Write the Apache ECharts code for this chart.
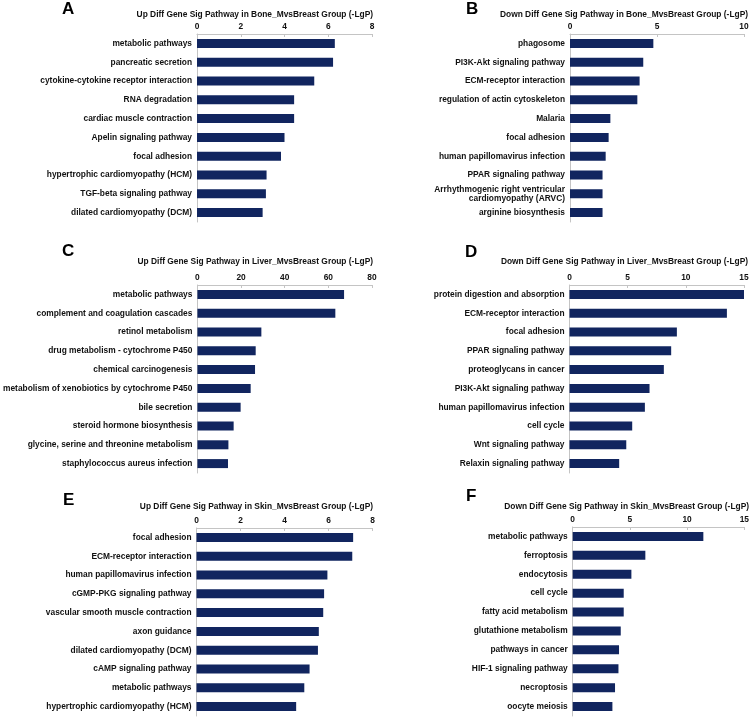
<!DOCTYPE html>
<html><head><meta charset="utf-8">
<script src="https://cdn.jsdelivr.net/npm/echarts@6/dist/echarts.min.js"></script>
<style>html,body{margin:0;padding:0;background:#fff}#c{width:752px;height:719px}</style>
</head><body><div id="c"></div>
<script>
// ---- data ----
const catsA = ["metabolic pathways","pancreatic secretion","cytokine-cytokine receptor interaction","RNA degradation","cardiac muscle contraction","Apelin signaling pathway","focal adhesion","hypertrophic cardiomyopathy (HCM)","TGF-beta signaling pathway","dilated cardiomyopathy (DCM)"];
const valsA = [6.3,6.22,5.36,4.44,4.44,4.0,3.84,3.18,3.15,3.0];
const catsB = ["phagosome","PI3K-Akt signaling pathway","ECM-receptor interaction","regulation of actin cytoskeleton","Malaria","focal adhesion","human papillomavirus infection","PPAR signaling pathway","Arrhythmogenic right ventricular\ncardiomyopathy (ARVC)","arginine biosynthesis"];
const valsB = [4.79,4.21,4.0,3.87,2.32,2.22,2.05,1.87,1.87,1.87];
const catsC = ["metabolic pathways","complement and coagulation cascades","retinol metabolism","drug metabolism - cytochrome P450","chemical carcinogenesis","metabolism of xenobiotics by cytochrome P450","bile secretion","steroid hormone biosynthesis","glycine, serine and threonine metabolism","staphylococcus aureus infection"];
const valsC = [67.2,63.2,29.3,26.7,26.4,24.4,19.8,16.6,14.2,14.0];
const catsD = ["protein digestion and absorption","ECM-receptor interaction","focal adhesion","PPAR signaling pathway","proteoglycans in cancer","PI3K-Akt signaling pathway","human papillomavirus infection","cell cycle","Wnt signaling pathway","Relaxin signaling pathway"];
const valsD = [15.0,13.53,9.23,8.74,8.11,6.88,6.48,5.39,4.88,4.27];
const catsE = ["focal adhesion","ECM-receptor interaction","human papillomavirus infection","cGMP-PKG signaling pathway","vascular smooth muscle contraction","axon guidance","dilated cardiomyopathy (DCM)","cAMP signaling pathway","metabolic pathways","hypertrophic cardiomyopathy (HCM)"];
const valsE = [7.12,7.08,5.95,5.8,5.76,5.56,5.52,5.14,4.9,4.53];
const catsF = ["metabolic pathways","ferroptosis","endocytosis","cell cycle","fatty acid metabolism","glutathione metabolism","pathways in cancer","HIF-1 signaling pathway","necroptosis","oocyte meiosis"];
const valsF = [11.42,6.35,5.13,4.46,4.46,4.2,4.05,4.0,3.7,3.47];
const titles = [
 "Up Diff Gene Sig Pathway in Bone_MvsBreast Group (-LgP)",
 "Down Diff Gene Sig Pathway in Bone_MvsBreast Group (-LgP)",
 "Up Diff Gene Sig Pathway in Liver_MvsBreast Group (-LgP)",
 "Down Diff Gene Sig Pathway in Liver_MvsBreast Group (-LgP)",
 "Up Diff Gene Sig Pathway in Skin_MvsBreast Group (-LgP)",
 "Down Diff Gene Sig Pathway in Skin_MvsBreast Group (-LgP)"];
const letters = ["A","B","C","D","E","F"];
const axisMax = [8,10,80,15,8,15];
const axisInterval = [2,5,20,5,2,5];

// ---- layout ----
const panels = [
 {cats:catsA, vals:valsA, grid:{left:197,width:175,top:34,height:188}, title:[373,15], letter:[62,9.5]},
 {cats:catsB, vals:valsB, grid:{left:570,width:174,top:34,height:188}, title:[748,15], letter:[466,9.5]},
 {cats:catsC, vals:valsC, grid:{left:197,width:175,top:285,height:188}, title:[373,262], letter:[62,251.5]},
 {cats:catsD, vals:valsD, grid:{left:569.5,width:174.5,top:285,height:188}, title:[748,262], letter:[465,252]},
 {cats:catsE, vals:valsE, grid:{left:196.5,width:176,top:528,height:188}, title:[373,507], letter:[63,500.5]},
 {cats:catsF, vals:valsF, grid:{left:572.7,width:171.6,top:527,height:189}, title:[749,506.5], letter:[466,496]}
];
const FONT = "Liberation Sans, Arial, sans-serif";
const FS = 8.4;
const grid=[], xAxis=[], yAxis=[], series=[], graphic=[];
panels.forEach((p,i)=>{
  grid.push(Object.assign({containLabel:false}, p.grid));
  xAxis.push({type:'value', gridIndex:i, position:'top', min:0, max:axisMax[i], interval:axisInterval[i],
    splitLine:{show:false},
    axisLine:{show:true, lineStyle:{color:'#c4c4c4', width:1}},
    axisTick:{show:true, inside:true, length:3, lineStyle:{color:'#c4c4c4'}},
    axisLabel:{fontSize:FS, fontWeight:'bold', color:'#111', margin:3, fontFamily:FONT}});
  yAxis.push({type:'category', gridIndex:i, inverse:true, data:p.cats,
    axisLine:{show:true, lineStyle:{color:'#c4c4c4', width:1}},
    axisTick:{show:false},
    axisLabel:{fontSize:FS, fontWeight:'bold', color:'#111', margin:5, lineHeight:9, fontFamily:FONT}});
  series.push({type:'bar', xAxisIndex:i, yAxisIndex:i, data:p.vals, barWidth:9,
    itemStyle:{color:'#11255f'}, silent:true});
  graphic.push({type:'text', x:p.title[0], y:p.title[1],
    style:{text:titles[i], font:'bold '+FS+'px '+FONT, fill:'#111', textAlign:'right', textVerticalAlign:'middle'}});
  graphic.push({type:'text', x:p.letter[0], y:p.letter[1],
    style:{text:letters[i], font:'bold 17px '+FONT, fill:'#000', textAlign:'left', textVerticalAlign:'middle'}});
});
const chart = echarts.init(document.getElementById('c'), null, {renderer:'canvas'});
chart.setOption({animation:false, backgroundColor:'#fff', grid, xAxis, yAxis, series, graphic});
</script></body></html>
